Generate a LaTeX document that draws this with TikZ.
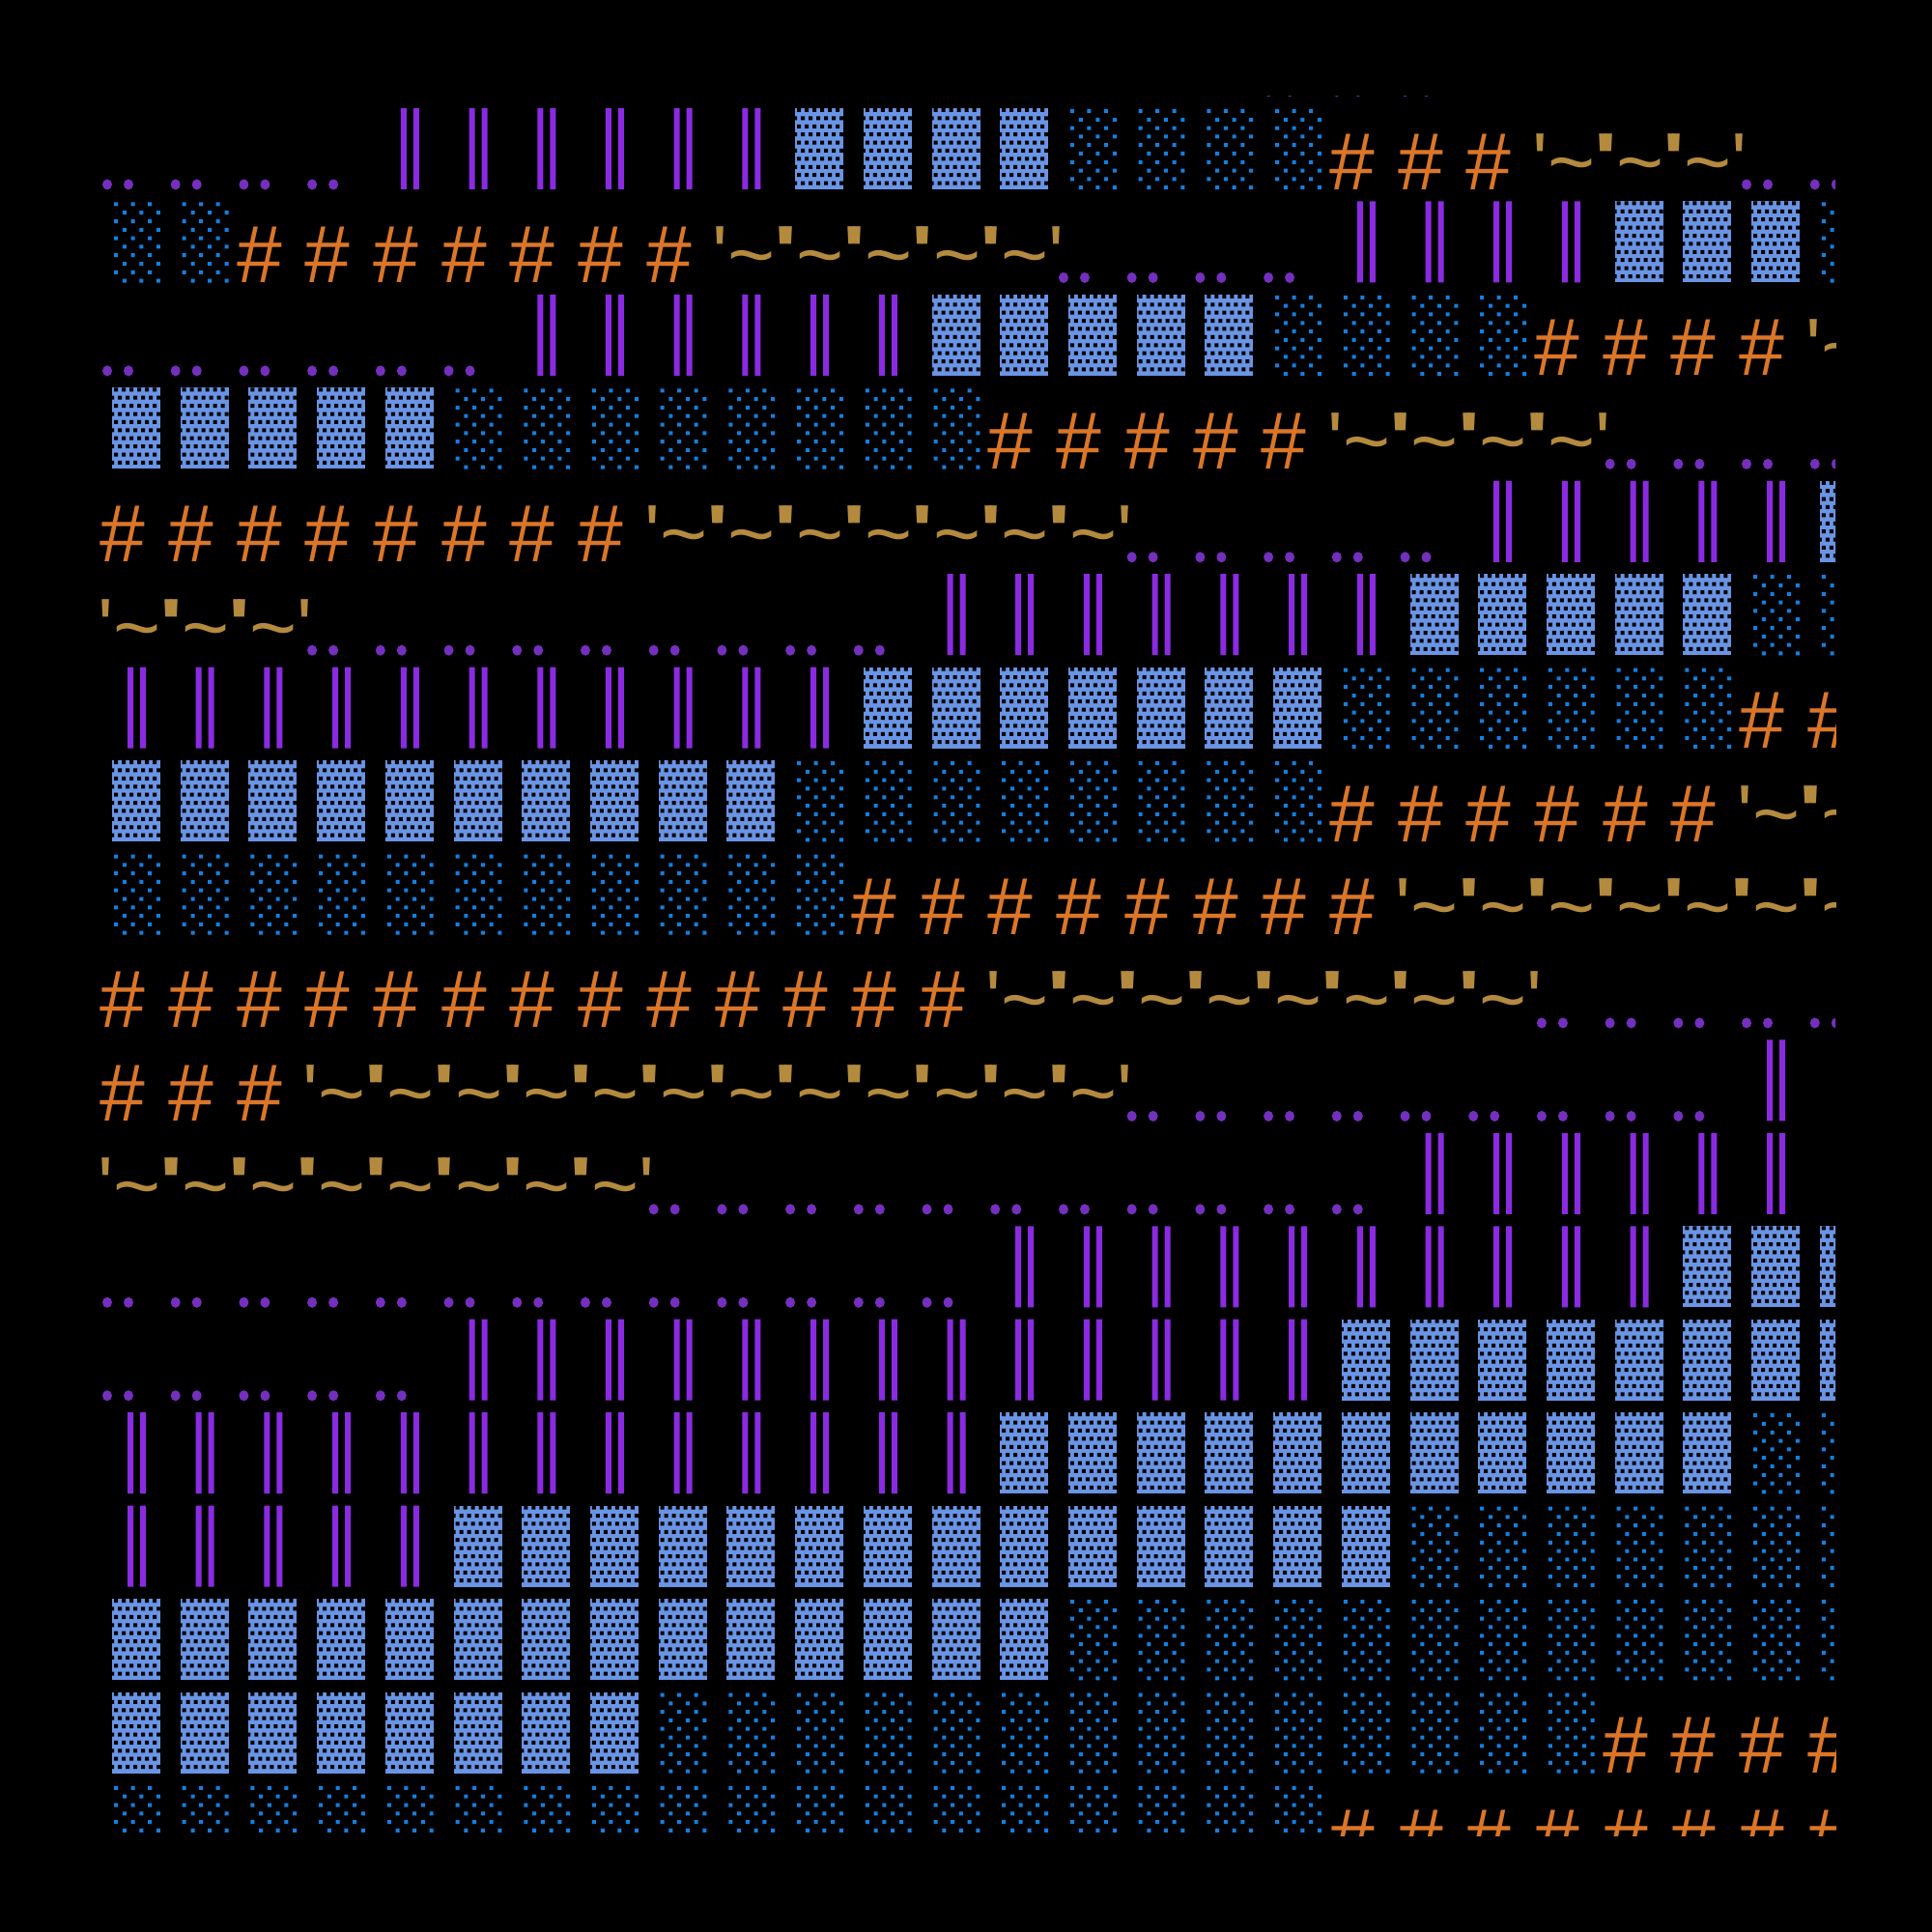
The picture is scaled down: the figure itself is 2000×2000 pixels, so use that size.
\documentclass[tikz,border=0pt]{standalone}
\usepackage{fontspec}
\newfontfamily\glyphfont{Liberation Sans}[Ligatures=TeXOff]

\definecolor{dotcol}{RGB}{117,47,190}
\definecolor{barcol}{RGB}{138,43,226}
\definecolor{densecol}{RGB}{106,148,228}
\definecolor{sparsecol}{RGB}{18,128,224}
\definecolor{hashcol}{RGB}{219,118,40}
\definecolor{tildecol}{RGB}{180,138,62}

% one cell of each kind, at (\cx,\cy)
\newcommand\dotscell{\fill[dotcol] (\cx+5,\cy+79) ellipse [x radius=5, y radius=5.5] (\cx+27,\cy+79) ellipse [x radius=5, y radius=5.5];}
\newcommand\barscell{\fill[barcol] (\cx+26,\cy) rectangle +(6,84) (\cx+39,\cy) rectangle +(6,84);}
\newcommand\densecell{%
  \fill[densecol] (\cx+10,\cy) rectangle +(50,84);
  \fill[black] \foreach \hr in {0,2,...,8} {\foreach \hc in {0,...,5} {(\cx+12+8*\hc,\cy+8.4*\hr) rectangle +(4,4)}}
    \foreach \hr in {1,3,...,9} {\foreach \hc in {0,...,6} {(\cx+8+8*\hc,\cy+8.4*\hr) rectangle +(4,4)}};}
\newcommand\sparsecell{%
  \fill[sparsecol] \foreach \hr in {0,2,...,8} {\foreach \xo in {12,29.5,47} {(\cx+\xo,\cy+1+8.8*\hr) rectangle +(4,4)}}
    \foreach \hr in {1,3,...,9} {\foreach \xo in {20.8,38.3,55.8} {(\cx+\xo,\cy+1+8.8*\hr) rectangle +(4,4)}};}
\newcommand\hashcell[1]{\node[hashtext] (hash-#1-\col) at (\cx+21,\cy+84) {\#};}
\newcommand\tildecell[1]{\node[tildetext] (tilde-#1-\col) at (\cx+36,\cy+84) {'\textasciitilde'};}

% #1 row, #2 kind of the first run, #3 where each run ends
\newcommand\gridrow[3]{%
  \foreach \runend [count=\k from 0, remember=\runend as \runstart (initially 0)] in {#3} {
    \pgfmathtruncatemacro\celltype{mod(#2+\k,6)}
    \pgfmathtruncatemacro\runlast{\runend-1}
    \foreach \col in {\runstart,...,\runlast} {
      \pgfmathsetmacro\cx{106+70.71*\col}
      \pgfmathsetmacro\cy{112+96.44*#1}
      \ifcase\celltype\relax \dotscell
      \or \barscell
      \or \densecell
      \or \sparsecell
      \or \hashcell{#1}
      \or \tildecell{#1}
      \fi
    }
  }
}

\begin{document}
\begin{tikzpicture}[x=0.01cm, y=-0.01cm,
    hashtext/.style={text=hashcol, font=\glyphfont\fontsize{23.9}{24}\selectfont, inner sep=0pt, anchor=base},
    tildetext/.style={text=tildecol, font=\glyphfont\fontsize{23.9}{24}\selectfont, inner sep=0pt, anchor=base}]
  \fill[black] (0,0) rectangle (2000,2000);
  \useasboundingbox (0,0) rectangle (2000,2000);
  \begin{scope}
    \clip (100,100) rectangle (1900,1900);
    % row above the top, only its dots show
    \foreach \col in {17,18,19} {
      \pgfmathsetmacro\cx{106+70.71*\col}
      \pgfmathsetmacro\cy{112-96.44}
      \dotscell
    }
    \gridrow{0}{0}{4,10,14,18,21,24,26}
    \gridrow{1}{3}{2,9,14,18,22,25,26}
    \gridrow{2}{0}{6,12,17,21,25,26}
    \gridrow{3}{2}{5,13,18,22,26}
    \gridrow{4}{4}{8,15,20,25,26}
    \gridrow{5}{5}{3,12,19,24,26}
    \gridrow{6}{1}{11,18,24,26}
    \gridrow{7}{2}{10,18,24,26}
    \gridrow{8}{3}{11,19,26}
    \gridrow{9}{4}{13,21,26}
    \gridrow{10}{4}{3,15,24,25}
    \gridrow{11}{5}{8,19,25}
    \gridrow{12}{0}{13,23,26}
    \gridrow{13}{0}{5,18,26}
    \gridrow{14}{1}{13,24,26}
    \gridrow{15}{1}{5,19,26}
    \gridrow{16}{2}{14,26}
    \gridrow{17}{2}{8,22,26}
    \gridrow{18}{3}{18,26}
  \end{scope}
\end{tikzpicture}
\end{document}
